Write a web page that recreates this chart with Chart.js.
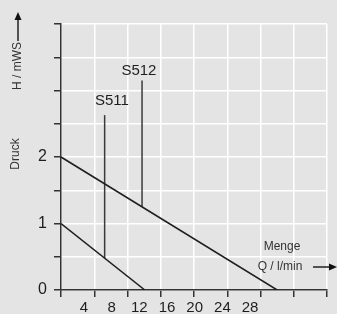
<!DOCTYPE html>
<html>
<head>
<meta charset="utf-8">
<script src="https://cdn.jsdelivr.net/npm/chart.js@4/dist/chart.umd.min.js"></script>
<style>
  html, body { margin: 0; padding: 0; background: #e4e4e4; }
  #wrap { width: 337px; height: 314px; }
</style>
</head>
<body>
<div id="wrap"><canvas id="pumpChart" width="337" height="314"></canvas></div>
<script>
// Q / l/min tick labels and H / mWS labelled ticks
var flowTicks = [4, 8, 12, 16, 20, 24, 28];
var headLabels = [0, 1, 2];

// pump curves (Q l/min, H mWS)
var curveLowQ = [0.7, 12.8];
var curveLowH = [1, 0];
var curveHighQ = [0.7, 31.9];
var curveHighH = [2, 0];

// model markers: name, flow, bottom / top of leader line, label position
var markerNames = ['S511', 'S512'];
var markerQ = [7.0, 12.4];
var markerFrom = [0.48, 1.25];
var markerTo = [2.63, 3.15];
var markerLabelQ = [8.05, 11.95];
var markerLabelH = [2.84, 3.29];

var FONT = '"Liberation Sans", Arial, sans-serif';
Chart.defaults.font.family = FONT;

function pts(xs, ys) {
    return xs.map(function (v, i) { return { x: v, y: ys[i] } });
}

var datasets = [
    { data: pts(curveLowQ, curveLowH) },
    { data: pts(curveHighQ, curveHighH) }
];
markerNames.forEach(function (n, i) {
    datasets.push({
        data: pts([markerQ[i], markerQ[i]], [markerFrom[i], markerTo[i]]),
        borderColor: '#3a3a3a'
    });
});
datasets.forEach(function (d) {
    d.xAxisID = 'x2';
    d.yAxisID = 'y';
    d.borderColor = d.borderColor || '#1e1e1e';
    d.borderWidth = 1.5;
    d.pointRadius = 0;
    d.fill = false;
});

function arrow(ctx, x1, y1, x2, y2) {
    var a = Math.atan2(y2 - y1, x2 - x1);
    ctx.beginPath();
    ctx.moveTo(x1, y1);
    ctx.lineTo(x2 - 5 * Math.cos(a), y2 - 5 * Math.sin(a));
    ctx.stroke();
    ctx.beginPath();
    ctx.moveTo(x2, y2);
    ctx.lineTo(x2 - 8 * Math.cos(a) + 3.5 * Math.sin(a), y2 - 8 * Math.sin(a) - 3.5 * Math.cos(a));
    ctx.lineTo(x2 - 8 * Math.cos(a) - 3.5 * Math.sin(a), y2 - 8 * Math.sin(a) + 3.5 * Math.cos(a));
    ctx.closePath();
    ctx.fill();
}

// texts around the plot
var annotate = {
    id: 'annotate',
    afterDraw: function (chart) {
        var ctx = chart.ctx;
        var sx = chart.scales.x2, sy = chart.scales.y;
        ctx.save();
        ctx.textAlign = 'center';
        ctx.textBaseline = 'middle';
        ctx.fillStyle = '#1e1e1e';
        ctx.font = '15px ' + FONT;
        markerNames.forEach(function (n, i) {
            ctx.fillText(n, sx.getPixelForValue(markerLabelQ[i]), sy.getPixelForValue(markerLabelH[i]));
        });

        ctx.fillStyle = '#333';
        ctx.strokeStyle = '#222';
        ctx.lineWidth = 1.5;
        ctx.font = '12px ' + FONT;
        ctx.fillText('Menge', 282, 247);
        ctx.fillText('Q / l/min', 280, 267);
        ctx.fillStyle = '#111';
        arrow(ctx, 313, 267, 337, 267);

        ctx.fillStyle = '#333';
        ctx.save();
        ctx.translate(18, 66);
        ctx.rotate(-Math.PI / 2);
        ctx.fillText('H / mWS', 0, 0);
        ctx.restore();
        ctx.save();
        ctx.translate(16, 154);
        ctx.rotate(-Math.PI / 2);
        ctx.fillText('Druck', 0, 0);
        ctx.restore();
        ctx.fillStyle = '#111';
        arrow(ctx, 18, 41, 18, 12);
        ctx.restore();
    }
};

new Chart(document.getElementById('pumpChart'), {
    type: 'line',
    data: { datasets: datasets },
    options: {
        responsive: false,
        animation: false,
        layout: { padding: { top: 24, right: 10, left: 0, bottom: 0 } },
        plugins: { legend: { display: false }, tooltip: { enabled: false } },
        scales: {
            x: {
                type: 'linear',
                position: 'bottom',
                weight: 0,
                min: 0,
                max: 8,
                ticks: { display: false, stepSize: 1 },
                grid: { color: '#ffffff', lineWidth: 1.5, tickColor: '#333', tickLength: 7, tickWidth: 1.5 },
                border: { color: '#333', width: 1.5 },
                afterFit: function (s) { s.height = 7; }
            },
            x2: {
                type: 'linear',
                position: 'bottom',
                weight: 1,
                min: 0.7,
                max: 39.1,
                afterBuildTicks: function (s) {
                    s.ticks = flowTicks.map(function (v) { return { value: v } });
                },
                ticks: { color: '#1e1e1e', padding: 3, maxRotation: 0, autoSkip: false, font: { size: 15, lineHeight: 1 } },
                grid: { display: false, drawTicks: false },
                border: { display: false },
                afterFit: function (s) { s.height = 17; }
            },
            y: {
                min: 0,
                max: 4,
                ticks: {
                    stepSize: 0.5,
                    padding: 7,
                    color: '#1e1e1e',
                    font: { size: 16 },
                    callback: function (v) { return headLabels.indexOf(v) >= 0 ? String(v) : ''; }
                },
                grid: { color: '#ffffff', lineWidth: 1.5, tickColor: '#333', tickLength: 7, tickWidth: 1.5 },
                border: { color: '#333', width: 1.5 },
                afterFit: function (s) { s.width = 61; }
            }
        }
    },
    plugins: [annotate]
});
</script>
</body>
</html>
